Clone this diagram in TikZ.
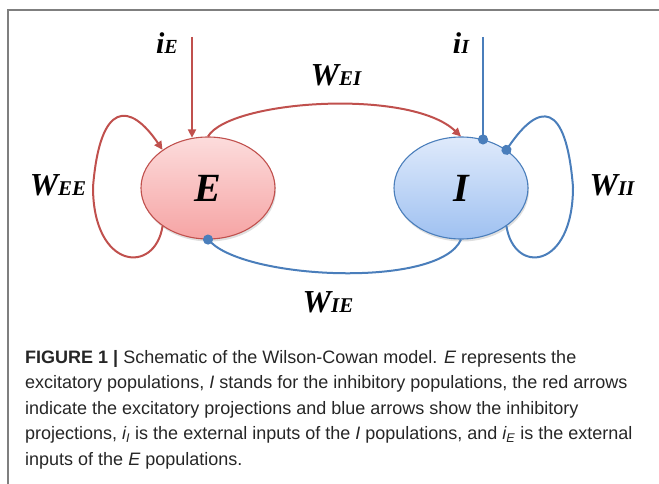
\documentclass[tikz,border=0pt]{standalone}
\usepackage{fontspec}
\setmainfont{Liberation Serif}
\newfontfamily\capfont{Liberation Sans}
\usetikzlibrary{arrows.meta,shapes.geometric,shadows}

\definecolor{exred}{HTML}{C0504D}
\definecolor{inblue}{HTML}{4A7EBB}
\definecolor{framegray}{HTML}{7F7F7F}
\definecolor{etop}{HTML}{FCDCDC}
\definecolor{ebot}{HTML}{F6A4A4}
\definecolor{itop}{HTML}{DFEAFB}
\definecolor{ibot}{HTML}{9FC1F1}

\newcommand{\wlab}[2]{\fontsize{32}{32}\selectfont\bfseries\itshape #1{\fontsize{21}{21}\selectfont #2}}
\newcommand{\ilab}[1]{\fontsize{30}{30}\selectfont\bfseries\itshape i{\fontsize{20}{20}\selectfont #1}}

\begin{document}
\begin{tikzpicture}[x=1pt, y=1pt,
    pop/.style={ellipse, minimum width=134pt, minimum height=102pt, inner sep=0pt,
        line width=1.1pt, font=\fontsize{40}{40}\selectfont\bfseries\itshape,
        drop shadow={shadow xshift=1pt, shadow yshift=-2.5pt, opacity=0.25}},
    exc/.style={draw=exred, line width=2pt, -{Triangle[length=8.5pt,width=8pt]}},
    inh/.style={draw=inblue, line width=2pt},
    dotend/.style={-{Circle[length=10pt]}, shorten >=-5pt},
    dotstart/.style={{Circle[length=10pt]}-, shorten <=-5pt}]
    \useasboundingbox (0,0) rectangle (659,-484);

    % frame
    \draw[framegray, line width=1.5pt] (8,-484) -- (8,-10) -- (659,-10);

    % populations
    \node[pop, draw=exred, top color=etop, bottom color=ebot] (E) at (208,-188) {E};
    \node[pop, draw=inblue, top color=itop, bottom color=ibot] (I) at (461,-188) {I};

    % external inputs
    \coordinate (iEtop) at (192,-37);
    \coordinate (iItop) at (483,-37);
    \node (iE) at (167,-43) {\ilab{E}};
    \node (iI) at (461,-43) {\ilab{I}};
    \draw[exc] (iEtop) -- (iEtop |- E.107);
    \draw[inh, dotend] (iItop) -- (iItop |- I.65);

    % E -> I
    \draw[exc] (E.north) .. controls (230,-100) and (410,-88) .. (I.north);
    \node (wei) at (336,-75) {\wlab{W}{EI}};

    % I -> E
    \draw[inh, dotend] (I.south) .. controls (440,-288) and (250,-280) .. (E.south);
    \node (wie) at (328,-302) {\wlab{W}{IE}};

    % self loops
    \draw[exc] (E.220) .. controls (155,-275) and (93,-270) .. (93,-187)
        .. controls (100,-100) and (130,-102) .. (E.140);
    \node (wee) at (58,-185) {\wlab{W}{EE}};
    \draw[inh, dotstart] (I.40) .. controls (539,-102) and (566,-100) .. (573,-187)
        .. controls (573,-270) and (514,-275) .. (I.320);
    \node (wii) at (612,-185) {\wlab{W}{II}};

    % caption
    \node[anchor=base west, align=left, inner sep=0pt, text=black!85,
        font=\capfont\fontsize{18}{25.5}\selectfont] (cap) at (25,-465)
        {\textbf{FIGURE 1 |} Schematic of the Wilson-Cowan model. \textit{E} represents the\\
        excitatory populations, \textit{I} stands for the inhibitory populations, the red arrows\\
        indicate the excitatory projections and blue arrows show the inhibitory\\
        projections, \textit{i\textsubscript{I}} is the external inputs of the \textit{I} populations, and \textit{i\textsubscript{E}} is the external\\
        inputs of the \textit{E} populations.};
\end{tikzpicture}
\end{document}
